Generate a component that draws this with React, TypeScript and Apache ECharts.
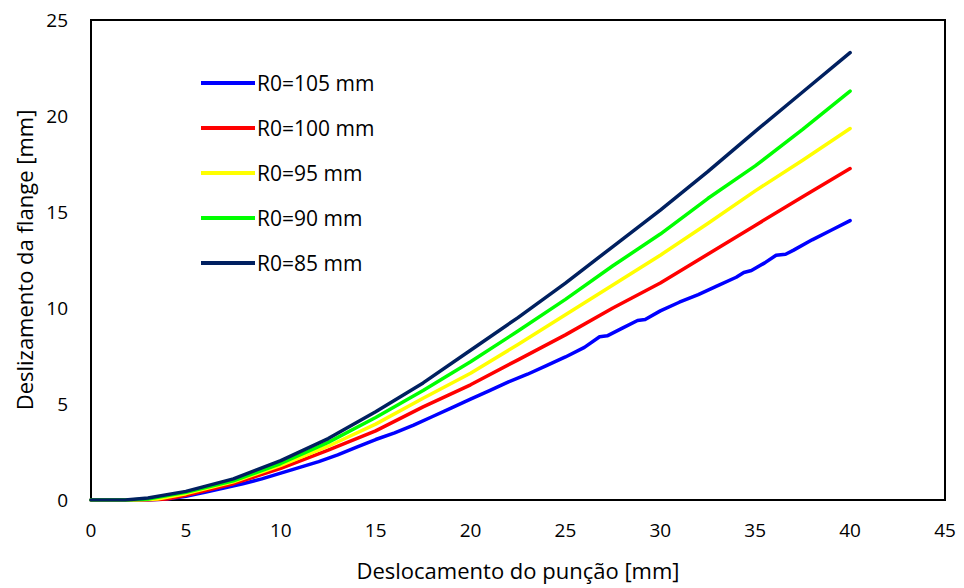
import React, { useEffect, useRef } from "react";
import * as echarts from "echarts";

const seriesNames = ["R0=105 mm", "R0=100 mm", "R0=95 mm", "R0=90 mm", "R0=85 mm"];
const seriesColors = ["#0000FF", "#FF0000", "#FFFF00", "#00FF00", "#002060"];

const r105: [number, number][] = [
  [0, 0], [3, 0], [4, 0.05], [5, 0.2], [6, 0.4], [7, 0.62], [8, 0.85], [9, 1.1], [10, 1.4],
  [11, 1.7], [12, 2.0], [13, 2.35], [14, 2.75], [15, 3.15], [16, 3.5], [17, 3.9], [18, 4.35],
  [19, 4.8], [20, 5.25], [21, 5.7], [22, 6.15], [23, 6.55], [24, 7.0], [25, 7.45], [26, 7.95],
  [26.8, 8.5], [27.2, 8.55], [28, 8.95], [28.8, 9.35], [29.2, 9.4], [30, 9.85], [31, 10.3],
  [32, 10.7], [33, 11.15], [34, 11.6], [34.4, 11.85], [34.8, 11.95], [35.5, 12.35], [36.1, 12.75],
  [36.6, 12.8], [37, 13.0], [38, 13.55], [39, 14.05], [40, 14.55],
];
const r100: [number, number][] = [
  [0, 0], [3, 0], [4, 0.05], [5, 0.25], [7.5, 0.85], [10, 1.65], [12.5, 2.6], [15, 3.6],
  [17.5, 4.85], [20, 6.0], [22.5, 7.3], [25, 8.6], [27.5, 10.0], [30, 11.3], [32.5, 12.8],
  [35, 14.3], [37.5, 15.8], [40, 17.26],
];
const r95: [number, number][] = [
  [0, 0], [2.5, 0], [3.5, 0.05], [5, 0.33], [7.5, 0.95], [10, 1.8], [12.5, 2.8], [15, 3.95],
  [17.5, 5.3], [20, 6.6], [22.5, 8.1], [25, 9.65], [27.5, 11.2], [30, 12.75], [32.5, 14.4],
  [35, 16.1], [37.5, 17.7], [40, 19.35],
];
const r90: [number, number][] = [
  [0, 0], [2, 0], [3, 0.05], [5, 0.4], [7.5, 1.0], [10, 1.9], [12.5, 3.0], [15, 4.3],
  [17.5, 5.7], [20, 7.2], [22.5, 8.8], [25, 10.45], [27.5, 12.2], [30, 13.85], [32.5, 15.7],
  [35, 17.4], [37.5, 19.3], [40, 21.3],
];
const r85: [number, number][] = [
  [0, 0], [1.8, 0], [3, 0.1], [5, 0.45], [7.5, 1.1], [10, 2.05], [12.5, 3.2], [15, 4.6],
  [17.5, 6.1], [20, 7.8], [22.5, 9.5], [25, 11.3], [27.5, 13.2], [30, 15.1], [32.5, 17.1],
  [35, 19.2], [37.5, 21.25], [40, 23.3],
];
const seriesData = [r105, r100, r95, r90, r85];

const FONT = "'Open Sans', Lato, sans-serif";

export default function App() {
  const ref = useRef<HTMLDivElement>(null);
  useEffect(() => {
    if (!ref.current) return;
    const chart = echarts.init(ref.current, null, { renderer: "svg" });
    chart.setOption({
      animation: false,
      backgroundColor: "#fff",
      grid: {
        left: 91, right: 19, top: 20, bottom: 88,
        show: true, borderColor: "#000", borderWidth: 2, backgroundColor: "transparent",
      },
      legend: {
        orient: "vertical",
        left: 196,
        top: 66,
        icon: "rect",
        itemWidth: 54,
        itemHeight: 4,
        itemGap: 21,
        data: seriesNames,
        textStyle: { fontFamily: FONT, fontSize: 21, color: "#000", lineHeight: 24, padding: [0, 0, 0, -3] },
      },
      xAxis: {
        type: "value",
        min: 0, max: 45, interval: 5,
        name: "Deslocamento do punção [mm]",
        nameLocation: "middle",
        nameGap: 59,
        nameTextStyle: { fontFamily: FONT, fontSize: 22, color: "#000" },
        axisLine: { show: true, lineStyle: { color: "#000", width: 2 } },
        axisTick: { show: false },
        splitLine: { show: false },
        axisLabel: { fontFamily: FONT, fontSize: 19, color: "#000", margin: 20 },
      },
      yAxis: {
        type: "value",
        min: 0, max: 25, interval: 5,
        name: "Deslizamento da flange [mm]",
        nameLocation: "middle",
        nameGap: 56,
        nameTextStyle: { fontFamily: FONT, fontSize: 22, color: "#000" },
        axisLine: { show: true, lineStyle: { color: "#000", width: 2 } },
        axisTick: { show: false },
        splitLine: { show: false },
        axisLabel: { fontFamily: FONT, fontSize: 19, color: "#000", margin: 23 },
      },
      series: seriesNames.map((n, i) => ({
        name: n,
        type: "line",
        data: seriesData[i],
        showSymbol: false,
        symbol: "none",
        smooth: false,
        z: 2 + i,
        itemStyle: { color: seriesColors[i] },
        lineStyle: { color: seriesColors[i], width: 3.5, cap: "round", join: "round" },
      })),
    });
    return () => chart.dispose();
  }, []);
  return <div ref={ref} style={{ width: 964, height: 588, position: "absolute", left: 0, top: 0 }} />;
}
